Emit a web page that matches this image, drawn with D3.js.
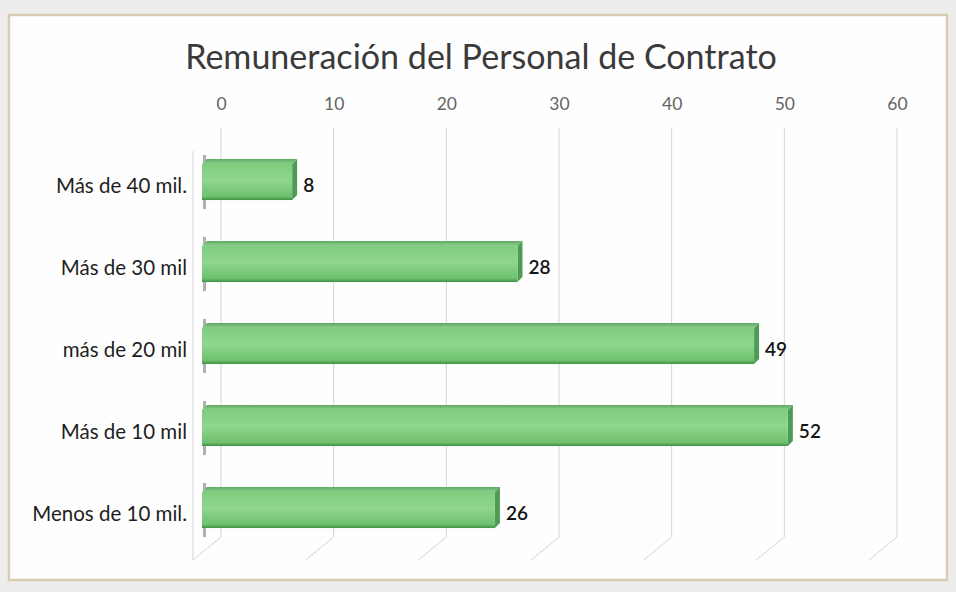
<!DOCTYPE html>
<html>
<head>
<meta charset="utf-8">
<script src="https://cdn.jsdelivr.net/npm/d3@7"></script>
<style>
  html, body { margin: 0; padding: 0; background: #eeeeec; }
  svg { display: block; }
</style>
</head>
<body>
<svg id="chart" width="956" height="592"></svg>
<script>
const title = "Remuneración del Personal de Contrato";
const categories = ["Más de 40 mil.", "Más de 30 mil", "más de 20 mil", "Más de 10 mil", "Menos de 10 mil."];
const values = [8, 28, 49, 52, 26];
const tickValues = [0, 10, 20, 30, 40, 50, 60];

const svg = d3.select("#chart");
const font = "Lato, 'Open Sans', sans-serif";

// defs: gradients
const defs = svg.append("defs");
const gFront = defs.append("linearGradient").attr("id", "front").attr("x1", 0).attr("y1", 0).attr("x2", 0).attr("y2", 1);
gFront.append("stop").attr("offset", "0%").attr("stop-color", "#7fcc7f");
gFront.append("stop").attr("offset", "45%").attr("stop-color", "#8fd68f");
gFront.append("stop").attr("offset", "90%").attr("stop-color", "#6ec06e");
gFront.append("stop").attr("offset", "100%").attr("stop-color", "#3f8f45");
const gTop = defs.append("linearGradient").attr("id", "topf").attr("x1", 0).attr("y1", 0).attr("x2", 0).attr("y2", 1);
gTop.append("stop").attr("offset", "0%").attr("stop-color", "#5fa864");
gTop.append("stop").attr("offset", "100%").attr("stop-color", "#8ccf8c");

// frame
svg.append("rect").attr("x", 0).attr("y", 0).attr("width", 956).attr("height", 592).attr("fill", "#ededeb");
svg.append("rect").attr("x", 9).attr("y", 15).attr("width", 938).attr("height", 565)
  .attr("fill", "#fefefe").attr("stroke", "#d9ceb4").attr("stroke-width", 2.5);

// scales
const x = d3.scaleLinear().domain([0, 60]).range([202, 878]);
const backOff = 19;          // back wall offset (x)
const y = d3.scaleBand().domain(categories).range([141, 551]).paddingInner(0.56).paddingOuter(0.28);
const depthX = 5, depthY = 5;

// gridlines on back wall + floor
const gridTop = 128, gridBottom = 537, floorDX = -28, floorDY = 23;
const grid = svg.append("g").attr("stroke", "#d4d4d4").attr("stroke-width", 1).attr("fill", "none");
tickValues.forEach(v => {
  const bx = x(v) + backOff;
  grid.append("path").attr("d", `M${bx},${gridTop}V${gridBottom}L${bx + floorDX},${gridBottom + floorDY}`);
});
// left wall front edge
grid.append("line").attr("x1", x(0) + backOff + floorDX).attr("x2", x(0) + backOff + floorDX)
  .attr("y1", gridTop + floorDY).attr("y2", gridBottom + floorDY);

// top axis labels
const axisScale = d3.scaleLinear().domain([0, 60]).range([x(0) + backOff, x(60) + backOff]);
const axis = d3.axisTop(axisScale).tickValues(tickValues).tickSize(0).tickPadding(0);
const axG = svg.append("g").attr("transform", "translate(0,110)").call(axis);
axG.select(".domain").remove();
axG.selectAll("text").attr("font-family", font).attr("font-size", 17.5).attr("font-weight", 400).attr("fill", "#646464");

// title
const t = svg.append("text").attr("x", 481).attr("y", 69).attr("text-anchor", "middle")
  .attr("font-family", font).attr("font-size", 29).attr("fill", "#3a3a3a").text(title);
const tw = t.node().getComputedTextLength();
t.attr("font-size", 29 * 592 / tw);

// bars
const bars = svg.append("g");
categories.forEach((c, i) => {
  const v = values[i];
  const y0 = y(c), h = y.bandwidth();
  const x0 = x(0), x1 = x(v);
  const g = bars.append("g");
  // left shadow stroke
  g.append("rect").attr("x", x0 + 1).attr("y", y0 - 9).attr("width", 3).attr("height", h + 18)
    .attr("fill", "#9a9e9a").attr("opacity", 0.8);
  // top face
  g.append("path").attr("d", `M${x0},${y0}L${x0 + depthX},${y0 - depthY}L${x1 + depthX},${y0 - depthY}L${x1},${y0}Z`)
    .attr("fill", "url(#topf)");
  // side face
  g.append("path").attr("d", `M${x1},${y0}L${x1 + depthX},${y0 - depthY}L${x1 + depthX},${y0 + h - depthY}L${x1},${y0 + h}Z`)
    .attr("fill", "#4f9a55");
  // front face
  g.append("rect").attr("x", x0).attr("y", y0).attr("width", x1 - x0).attr("height", h)
    .attr("fill", "url(#front)");
  // value label
  g.append("text").attr("x", x1 + 11).attr("y", y0 + h / 2 + 3).attr("dy", "0.35em")
    .attr("font-family", font).attr("font-size", 19).attr("font-weight", 600).attr("fill", "#151515").text(v);
});

// category labels
const yAxis = d3.axisLeft(y).tickSize(0).tickPadding(0);
const yG = svg.append("g").attr("transform", "translate(187,4)").call(yAxis);
yG.select(".domain").remove();
yG.selectAll("text").attr("font-family", font).attr("font-size", 20.5).attr("fill", "#1e1e1e");
</script>
</body>
</html>
